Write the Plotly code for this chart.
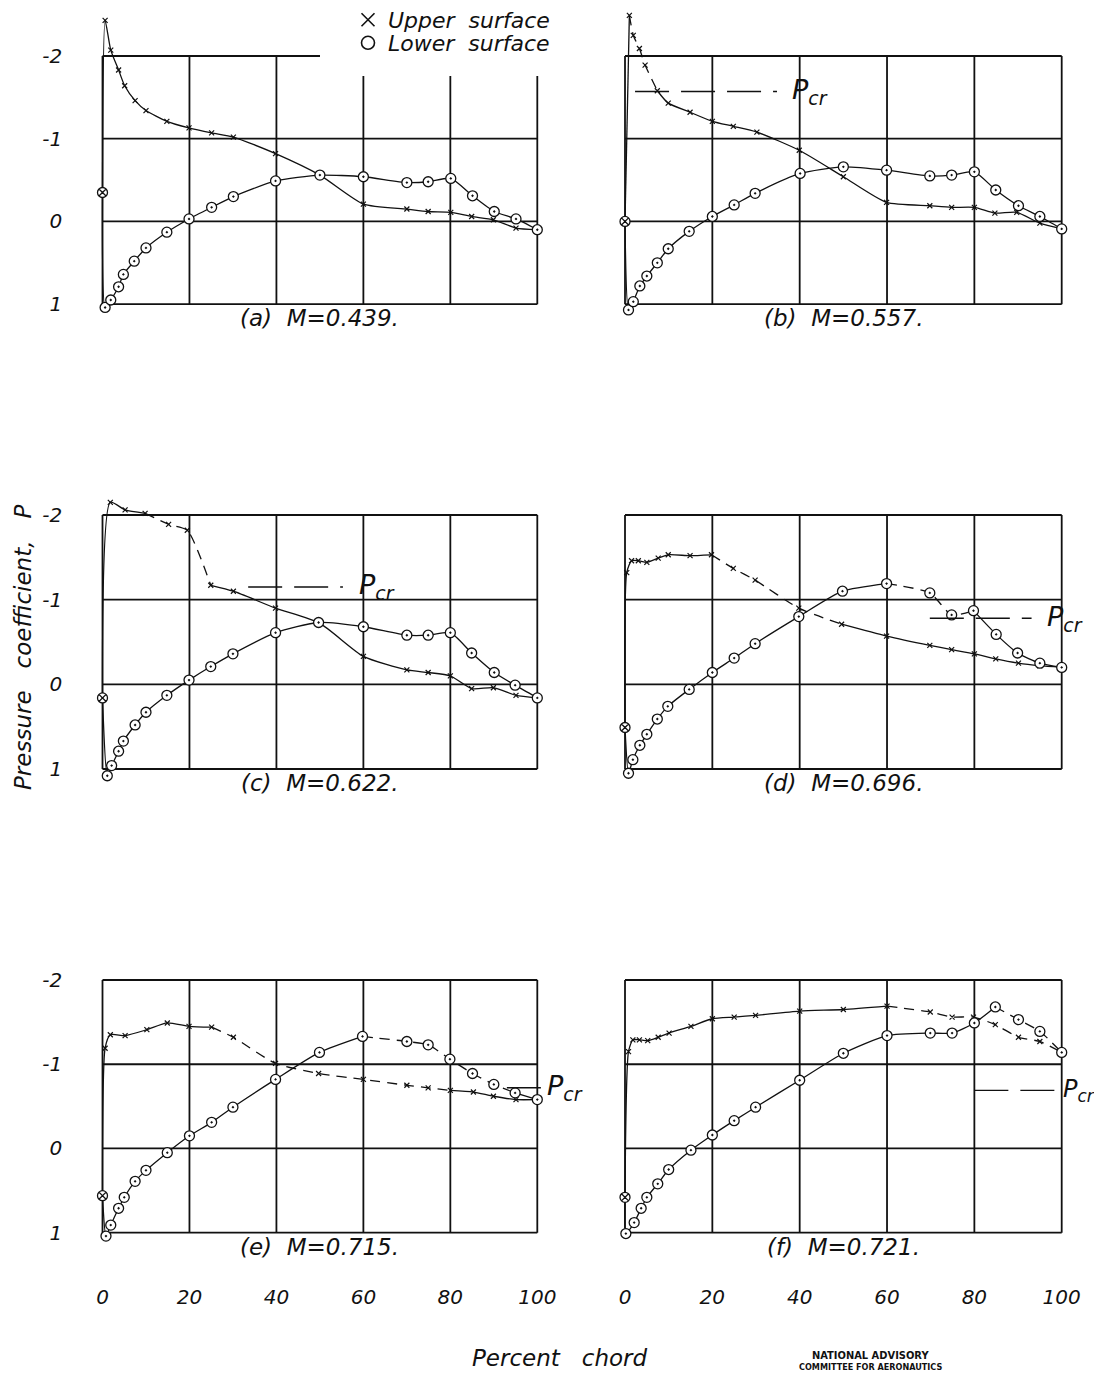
import plotly.graph_objects as go

# target picture size and the browser's default page margin around the plot div
W, H = 1102, 1383
PAGE_MARGIN = 8
FW, FH = W - 2 * PAGE_MARGIN, H - 2 * PAGE_MARGIN
FONT = "DejaVu Sans, Open Sans, sans-serif"

# ---------------- data ----------------
PANEL_TAGS = ["(a)", "(b)", "(c)", "(d)", "(e)", "(f)"]
MACH = ["0.439", "0.557", "0.622", "0.696", "0.715", "0.721"]
P_CR = [None, -1.57, -1.15, -0.78, -0.72, -0.69]
LE_P = [-0.35, 0.00, 0.16, 0.51, 0.56, 0.58]   # leading-edge orifice

X_TICKS = [0, 20, 40, 60, 80, 100]
Y_TICKS = [-2, -1, 0, 1]
Y_TICK_TEXT = ["-2", "-1", "0", "1"]

UP_A_X = [0.6, 1.9, 3.7, 5.1, 7.5, 10.0, 14.8, 19.9, 25.1, 30.1, 39.8, 50.0, 60.0, 70.0, 74.9, 80.1, 84.9, 89.9, 95.1, 100]
UP_A_Y = [-2.43, -2.07, -1.83, -1.64, -1.46, -1.34, -1.21, -1.13, -1.07, -1.02, -0.82, -0.56, -0.21, -0.15, -0.12, -0.11, -0.06, -0.02, 0.08, 0.10]
LO_A_X = [0.6, 1.9, 3.7, 4.8, 7.3, 10.0, 14.8, 19.9, 25.1, 30.1, 39.8, 50.0, 60.0, 70.0, 74.9, 80.1, 85.1, 90.1, 95.1, 100]
LO_A_Y = [1.04, 0.95, 0.79, 0.64, 0.48, 0.32, 0.13, -0.03, -0.17, -0.30, -0.49, -0.56, -0.54, -0.47, -0.48, -0.52, -0.31, -0.12, -0.03, 0.10]

UP_B_X = [1.0, 1.9, 3.3, 4.6, 7.4, 9.9, 14.9, 20.0, 24.8, 30.2, 39.9, 50.0, 59.9, 69.8, 74.8, 80.0, 84.7, 89.7, 95.0, 100]
UP_B_Y = [-2.49, -2.25, -2.09, -1.89, -1.58, -1.43, -1.32, -1.21, -1.15, -1.08, -0.86, -0.54, -0.23, -0.19, -0.17, -0.17, -0.10, -0.11, 0.02, 0.09]
LO_B_X = [0.8, 1.9, 3.4, 5.0, 7.4, 9.9, 14.7, 20.0, 25.0, 29.8, 40.1, 50.0, 59.9, 69.8, 74.8, 80.0, 84.9, 90.1, 95.0, 100]
LO_B_Y = [1.07, 0.97, 0.78, 0.66, 0.50, 0.33, 0.12, -0.06, -0.20, -0.34, -0.58, -0.66, -0.62, -0.55, -0.56, -0.60, -0.38, -0.19, -0.06, 0.09]

UP_C_X = [1.8, 5.2, 9.8, 15.2, 19.5, 24.9, 30.1, 39.8, 50.0, 60.0, 70.0, 74.9, 80.0, 84.9, 89.9, 95.1, 100]
UP_C_Y = [-2.15, -2.06, -2.02, -1.89, -1.82, -1.17, -1.10, -0.90, -0.72, -0.33, -0.17, -0.14, -0.10, 0.05, 0.04, 0.13, 0.16]
LO_C_X = [1.1, 2.1, 3.7, 4.8, 7.5, 10.0, 14.8, 19.9, 24.9, 30.0, 39.8, 49.7, 60.0, 70.0, 74.9, 80.0, 84.9, 90.1, 94.9, 100]
LO_C_Y = [1.08, 0.96, 0.79, 0.67, 0.48, 0.33, 0.13, -0.05, -0.21, -0.36, -0.61, -0.73, -0.68, -0.58, -0.58, -0.61, -0.37, -0.14, 0.01, 0.16]

UP_D_X = [0.4, 1.5, 3.05, 5.0, 7.6, 9.9, 14.9, 19.8, 24.8, 29.8, 39.8, 49.6, 59.9, 69.8, 74.8, 80.0, 84.9, 90.1, 95.0, 100]
UP_D_Y = [-1.32, -1.46, -1.46, -1.44, -1.49, -1.53, -1.52, -1.53, -1.37, -1.23, -0.90, -0.71, -0.57, -0.46, -0.41, -0.36, -0.30, -0.25, -0.22, -0.20]
LO_D_X = [0.8, 1.8, 3.4, 5.0, 7.4, 9.8, 14.7, 20.0, 25.0, 29.8, 39.8, 49.8, 59.9, 69.8, 74.8, 79.8, 85.0, 89.9, 95.0, 100]
LO_D_Y = [1.05, 0.89, 0.72, 0.59, 0.41, 0.26, 0.06, -0.14, -0.31, -0.48, -0.80, -1.10, -1.19, -1.08, -0.82, -0.87, -0.59, -0.37, -0.25, -0.20]

UP_E_X = [0.6, 1.8, 5.2, 10.2, 14.9, 19.9, 25.1, 30.1, 39.8, 49.7, 60.0, 70.0, 74.9, 80.0, 85.3, 89.9, 95.1, 100]
UP_E_Y = [-1.19, -1.35, -1.34, -1.41, -1.49, -1.45, -1.44, -1.32, -1.01, -0.89, -0.82, -0.75, -0.72, -0.69, -0.67, -0.62, -0.58, -0.58]
LO_E_X = [0.8, 1.9, 3.7, 5.0, 7.5, 10.0, 14.9, 20.0, 25.1, 30.0, 39.8, 49.9, 59.8, 70.0, 74.9, 79.9, 85.1, 90.0, 94.9, 100]
LO_E_Y = [1.04, 0.91, 0.71, 0.58, 0.39, 0.26, 0.05, -0.15, -0.31, -0.49, -0.82, -1.14, -1.33, -1.27, -1.23, -1.06, -0.89, -0.76, -0.66, -0.58]

UP_F_X = [0.8, 1.8, 3.3, 5.2, 7.6, 10.1, 15.1, 20.0, 25.0, 29.9, 40.0, 50.0, 60.0, 69.9, 74.9, 79.8, 84.8, 90.1, 95.0, 100]
UP_F_Y = [-1.15, -1.29, -1.29, -1.28, -1.32, -1.37, -1.45, -1.54, -1.56, -1.58, -1.63, -1.65, -1.69, -1.62, -1.56, -1.56, -1.47, -1.32, -1.27, -1.14]
LO_F_X = [0.2, 2.1, 3.7, 5.0, 7.5, 10.0, 15.1, 20.0, 25.0, 29.9, 40.0, 50.0, 60.0, 69.9, 74.9, 80.0, 84.8, 90.1, 95.0, 100]
LO_F_Y = [1.01, 0.88, 0.71, 0.58, 0.42, 0.25, 0.02, -0.16, -0.33, -0.49, -0.81, -1.13, -1.34, -1.37, -1.37, -1.49, -1.68, -1.53, -1.39, -1.14]

UPPER = [(UP_A_X, UP_A_Y), (UP_B_X, UP_B_Y), (UP_C_X, UP_C_Y), (UP_D_X, UP_D_Y), (UP_E_X, UP_E_Y), (UP_F_X, UP_F_Y)]
LOWER = [(LO_A_X, LO_A_Y), (LO_B_X, LO_B_Y), (LO_C_X, LO_C_Y), (LO_D_X, LO_D_Y), (LO_E_X, LO_E_Y), (LO_F_X, LO_F_Y)]

# ---------------- styling / layout (pixel positions in the target picture) ----------------
DASH_UP = [None, (1.0, 7.4), (9.8, 24.9), (19.8, 49.6), (25.1, 80.0), (60.0, 100)]
DASH_LO = [None, None, None, (59.9, 79.8), (59.8, 94.9), (84.8, 100)]
PCR_SPAN = [None, (2.3, 34.8), (33.5, 55.3), (69.8, 93.1), (93.0, 101.0), (80.0, 98.6)]
PCR_LABEL_X = [None, 37.8, 58.5, 96.2, 100.0, 100.0]
PCR_LABEL_SHIFT = [0, 0, 0, 0, 8, -1]
PCR_LABEL_SIZE = [27, 27, 27, 27, 27, 24]

COL_PX = [(102.5, 537.3), (625.0, 1061.7)]
ROW_PX = [(51.0, 304.0), (515.0, 769.0), (980.0, 1232.7)]
X_RANGE = (-1.0, 101.0)
Y_TOP = [-2.58, -2.4, -2.4]
Y_BOT = 1.1

BLACK = "#111111"
GRID_W = 1.8
LINE_W = 1.3
TICKFONT = dict(family=FONT, size=20, color=BLACK, style="italic")


def px_x(p):
    return (p - PAGE_MARGIN) / FW


def px_y(p):
    return 1 - (p - PAGE_MARGIN) / FH


def split_dash(xs, ys, rng):
    if rng is None:
        return (list(xs), list(ys)), None
    a, b = rng
    sx, sy, dx, dy = [], [], [], []
    gap_added = False
    for x, y in zip(xs, ys):
        if x <= a or x >= b:
            if x >= b and not gap_added:
                sx.append(None); sy.append(None)
                gap_added = True
            sx.append(x); sy.append(y)
        if a <= x <= b:
            dx.append(x); dy.append(y)
    return (sx, sy), (dx, dy)


fig = go.Figure()
shapes, annotations = [], []
layout = {}

for k in range(6):
    r, c = divmod(k, 2)
    n = k + 1
    xs_name = "x" if n == 1 else f"x{n}"
    ys_name = "y" if n == 1 else f"y{n}"

    x0p, x100p = COL_PX[c]
    xppu = (x100p - x0p) / 100.0
    left = x0p + X_RANGE[0] * xppu
    right = x0p + X_RANGE[1] * xppu
    ym2, y1p = ROW_PX[r]
    yppu = (y1p - ym2) / 3.0
    top = ym2 + (Y_TOP[r] + 2) * yppu
    bot = y1p + (Y_BOT - 1) * yppu

    layout["xaxis" if n == 1 else f"xaxis{n}"] = dict(
        domain=[px_x(left), px_x(right)], range=list(X_RANGE), anchor=ys_name,
        showgrid=False, zeroline=False, showline=False, ticks="",
        tickvals=X_TICKS, ticktext=[str(v) for v in X_TICKS],
        showticklabels=(r == 2), ticklabelstandoff=42, tickfont=TICKFONT,
    )
    layout["yaxis" if n == 1 else f"yaxis{n}"] = dict(
        domain=[px_y(bot), min(1.0, px_y(top))], range=[Y_BOT, Y_TOP[r]], anchor=xs_name,
        showgrid=False, zeroline=False, showline=False, ticks="",
        tickvals=Y_TICKS, ticktext=Y_TICK_TEXT,
        showticklabels=(c == 0), ticklabelstandoff=35, tickfont=TICKFONT,
    )

    # frame and grid
    for gx in X_TICKS:
        shapes.append(dict(type="line", xref=xs_name, yref=ys_name, x0=gx, x1=gx,
                           y0=Y_TICKS[0], y1=Y_TICKS[-1], layer="below",
                           line=dict(color=BLACK, width=GRID_W)))
    for gy in Y_TICKS:
        shapes.append(dict(type="line", xref=xs_name, yref=ys_name, x0=X_TICKS[0], x1=X_TICKS[-1],
                           y0=gy, y1=gy, layer="below",
                           line=dict(color=BLACK, width=GRID_W)))

    # curves (start at the leading-edge orifice)
    for (xs, ys), drng in ((UPPER[k], DASH_UP[k]), (LOWER[k], DASH_LO[k])):
        fx = [0.0] + list(xs)
        fy = [LE_P[k]] + list(ys)
        solid, dashed = split_dash(fx, fy, drng)
        fig.add_trace(go.Scatter(x=solid[0], y=solid[1], mode="lines", xaxis=xs_name, yaxis=ys_name,
                                 line=dict(color=BLACK, width=LINE_W, shape="spline", smoothing=0.6),
                                 showlegend=False, hoverinfo="skip", connectgaps=False))
        if dashed is not None:
            fig.add_trace(go.Scatter(x=dashed[0], y=dashed[1], mode="lines", xaxis=xs_name, yaxis=ys_name,
                                     line=dict(color=BLACK, width=LINE_W, shape="spline", smoothing=0.6,
                                               dash="10px,7px"),
                                     showlegend=False, hoverinfo="skip"))

    # markers
    fig.add_trace(go.Scatter(x=UPPER[k][0], y=UPPER[k][1], mode="markers", xaxis=xs_name, yaxis=ys_name,
                             marker=dict(symbol="x-thin", size=5, line=dict(color=BLACK, width=1.2)),
                             cliponaxis=False, showlegend=False, name="Upper surface"))
    fig.add_trace(go.Scatter(x=LOWER[k][0], y=LOWER[k][1], mode="markers", xaxis=xs_name, yaxis=ys_name,
                             marker=dict(symbol="circle-dot", size=10, color="white",
                                         line=dict(color=BLACK, width=1.3)),
                             cliponaxis=False, showlegend=False, name="Lower surface"))
    fig.add_trace(go.Scatter(x=[0.0], y=[LE_P[k]], mode="markers", xaxis=xs_name, yaxis=ys_name,
                             marker=dict(symbol="circle-x", size=10, color="white",
                                         line=dict(color=BLACK, width=1.3)),
                             cliponaxis=False, showlegend=False, name="Leading edge"))

    # critical pressure coefficient
    if P_CR[k] is not None:
        a, b = PCR_SPAN[k]
        fig.add_trace(go.Scatter(x=[a, b], y=[P_CR[k], P_CR[k]], mode="lines", xaxis=xs_name, yaxis=ys_name,
                                 line=dict(color=BLACK, width=1.4, dash="34px,12px"),
                                 showlegend=False, hoverinfo="skip", name="Pcr"))
        annotations.append(dict(xref=xs_name, yref=ys_name, x=PCR_LABEL_X[k], y=P_CR[k],
                                xshift=PCR_LABEL_SHIFT[k],
                                xanchor="left", yanchor="middle", showarrow=False,
                                text="P<sub>cr</sub>",
                                font=dict(family=FONT, size=PCR_LABEL_SIZE[k], color=BLACK, style="italic")))

    # caption
    annotations.append(dict(xref=xs_name, yref=ys_name, x=50, y=1, yshift=-14,
                            xanchor="center", yanchor="middle", showarrow=False,
                            text=f"{PANEL_TAGS[k]}  M=" + MACH[k] + ".",
                            font=dict(family=FONT, size=23, color=BLACK, style="italic")))

# white mask behind the key (the grid is interrupted there in the original)
shapes.append(dict(type="rect", xref="paper", yref="paper", x0=px_x(320), x1=px_x(600),
                   y0=px_y(76), y1=1.0, layer="above", line=dict(width=0), fillcolor="white"))

# legend keys
fig.add_trace(go.Scatter(x=[None], y=[None], mode="markers", name="Upper  surface", legend="legend",
                         marker=dict(symbol="x-thin", size=13, color=BLACK,
                                     line=dict(color=BLACK, width=1.6))))
fig.add_trace(go.Scatter(x=[None], y=[None], mode="markers", name="Lower  surface", legend="legend2",
                         marker=dict(symbol="circle-open", size=13, color=BLACK,
                                     line=dict(color=BLACK, width=1.6))))

annotations.append(dict(xref="paper", yref="paper", x=px_x(23), y=px_y(648), textangle=-90,
                        showarrow=False, xanchor="center", yanchor="middle",
                        text="Pressure   coefficient,   P",
                        font=dict(family=FONT, size=23, color=BLACK, style="italic")))
annotations.append(dict(xref="paper", yref="paper", x=px_x(560), y=px_y(1358),
                        showarrow=False, xanchor="center", yanchor="middle",
                        text="Percent   chord",
                        font=dict(family=FONT, size=23, color=BLACK, style="italic")))
annotations.append(dict(xref="paper", yref="paper", x=px_x(870), y=px_y(1355),
                        showarrow=False, xanchor="center", yanchor="middle",
                        text="<b>NATIONAL ADVISORY</b>",
                        font=dict(family="DejaVu Sans Condensed, DejaVu Sans", size=11, color=BLACK)))
annotations.append(dict(xref="paper", yref="paper", x=px_x(870), y=px_y(1367),
                        showarrow=False, xanchor="center", yanchor="middle",
                        text="<b>COMMITTEE FOR AERONAUTICS</b>",
                        font=dict(family="DejaVu Sans Condensed, DejaVu Sans", size=9, color=BLACK)))

LEG = dict(xanchor="left", yanchor="middle", bgcolor="rgba(0,0,0,0)", borderwidth=0,
           font=dict(family=FONT, size=22, color=BLACK, style="italic"), itemsizing="trace")

fig.update_layout(
    width=FW, height=FH, autosize=False,
    margin=dict(l=0, r=0, t=0, b=0, autoexpand=False),
    paper_bgcolor="white", plot_bgcolor="white",
    shapes=shapes, annotations=annotations,
    showlegend=True,
    legend=dict(x=px_x(348), y=px_y(20), **LEG),
    legend2=dict(x=px_x(348), y=px_y(43), **LEG),
    **layout,
)

fig.write_html("out.html", config={"displayModeBar": False})
